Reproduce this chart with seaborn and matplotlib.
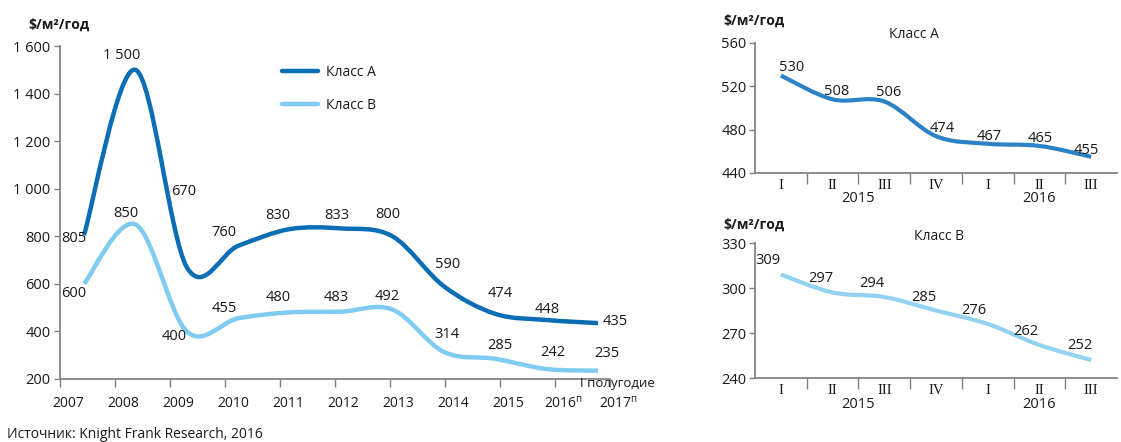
import numpy as np
import matplotlib
matplotlib.use("Agg")
import matplotlib.pyplot as plt
import seaborn as sns
from matplotlib.path import Path
from matplotlib.patches import PathPatch
from matplotlib.lines import Line2D
from matplotlib.ticker import FuncFormatter
from matplotlib.transforms import ScaledTranslation

# ---- data ----
years = ["2007", "2008", "2009", "2010", "2011", "2012", "2013", "2014", "2015",
         "2016$^\\mathregular{п}$", "2017$^\\mathregular{п}$"]
class_a = [805, 1500, 670, 760, 830, 833, 800, 590, 474, 448, 435]
class_b = [600, 850, 400, 455, 480, 483, 492, 314, 285, 242, 235]

quarters = ["I", "II", "III", "IV", "I", "II", "III"]
quarter_years = ["2015", "2016"]
quarter_year_idx = [0, 0, 0, 0, 1, 1, 1]
q_class_a = [530, 508, 506, 474, 467, 465, 455]
q_class_b = [309, 297, 294, 285, 276, 262, 252]

# label offsets in pixels (dx, dy)
off_a = [(-10, -3), (-14, 14), (-3, 76), (-14, 13), (-12, 14), (-4, 13),
         (-5, 22), (4, 22), (5, 20), (1, 11), (17, 2)]
off_b = [(-10, -10), (-10, 11), (-13, -5), (-14, 10), (-11, 15), (-5, 14),
         (-5, 13), (3, 17), (5, 13), (6, 17), (9, 17)]
off_qa = [(11, 8), (4, 8), (4, 9), (6, 8), (1, 7), (1, 7), (-5, 6)]
off_qb = [(-13, 14), (-12, 14), (-12, 14), (-12, 13), (-14, 14), (-14, 14), (-11, 15)]

DARK = "#0b6db4"
LIGHT = "#80cbf2"
Q_DARK = "#2b82c6"
Q_LIGHT = "#93d3f1"
TXT = "#1a1a1a"
SPINE = "#808080"

W, H = 1121, 442

sns.set_theme(style="ticks")
plt.rcParams["font.family"] = ["Open Sans", "DejaVu Sans"]
plt.rcParams["font.size"] = 10
plt.rcParams["text.color"] = TXT
plt.rcParams["axes.edgecolor"] = SPINE
plt.rcParams["xtick.color"] = SPINE
plt.rcParams["ytick.color"] = SPINE
plt.rcParams["xtick.labelcolor"] = TXT
plt.rcParams["ytick.labelcolor"] = TXT


def box(left, top, right, bottom):
    return [left / W, 1 - bottom / H, (right - left) / W, (bottom - top) / H]


def smooth_path(xs, ys):
    pts = np.column_stack([xs, ys]).astype(float)
    n = len(pts)
    verts = [pts[0]]
    codes = [Path.MOVETO]
    for i in range(n - 1):
        p0 = pts[max(i - 1, 0)]
        p1 = pts[i]
        p2 = pts[i + 1]
        p3 = pts[min(i + 2, n - 1)]
        verts += [p1 + (p2 - p0) / 6, p2 - (p3 - p1) / 6, p2]
        codes += [Path.CURVE4] * 3
    return Path(verts, codes)


def draw_line(ax, values, color, lw):
    xs = np.arange(len(values))
    ax.add_patch(PathPatch(smooth_path(xs, values), facecolor="none",
                           edgecolor=color, lw=lw, capstyle="butt", joinstyle="round"))


def label_points(ax, values, offsets, size=10.5):
    for i, (v, (dx, dy)) in enumerate(zip(values, offsets)):
        ax.annotate(f"{v:,}".replace(",", " "), (i, v), xytext=(dx, dy), textcoords="offset pixels",
                    ha="center", va="center", fontsize=size, color=TXT)


fig = plt.figure(figsize=(W / 100, H / 100), dpi=100)

# ---- main chart ----
ax = fig.add_axes(box(60, 46, 610, 379))
draw_line(ax, class_a, DARK, 3.2)
draw_line(ax, class_b, LIGHT, 3.2)
label_points(ax, class_a, off_a)
label_points(ax, class_b, off_b)
x0, x1 = -0.467, 10.233
ax.set_xlim(x0, x1)
ax.set_ylim(200, 1600)
ax.set_yticks(range(200, 1601, 200))
ax.yaxis.set_major_formatter(FuncFormatter(lambda v, p: f"{v:,.0f}".replace(",", " ")))
ax.set_xticks(np.linspace(x0, x1, len(years)))
ax.set_xticklabels(years)
ax.tick_params(axis="x", length=6, width=1, pad=6, labelsize=10)
ax.tick_params(axis="y", length=4, width=1, pad=3, labelsize=10.5)
for lab in ax.get_xticklabels():
    lab.set_transform(lab.get_transform() + ScaledTranslation(6 / 72, 0, fig.dpi_scale_trans))
sns.despine(ax=ax)
ax.annotate("I полугодие", (x1, 0), xycoords=("data", "axes fraction"),
            xytext=(7, -5), textcoords="offset pixels", ha="center", va="center", fontsize=9.5)
handles = [Line2D([], [], color=DARK, lw=3.2), Line2D([], [], color=LIGHT, lw=3.2)]
ax.legend(handles, ["Класс А", "Класс В"], loc="upper left", bbox_to_anchor=(0.38, 0.98),
          frameon=False, labelspacing=1.3, handlelength=2.6, handletextpad=0.6, fontsize=10)
fig.text(28 / W, 1 - 25 / H, "$/м²/год", ha="left", va="center", fontsize=10, fontweight="bold")


# ---- quarterly charts ----
def quarter_chart(rect, values, offsets, color, ylim, step, title, title_xy, unit_y):
    qa = fig.add_axes(box(*rect))
    draw_line(qa, values, color, 3.0)
    label_points(qa, values, offsets)
    qa.set_xlim(-0.5, len(quarters) - 0.5)
    qa.set_ylim(*ylim)
    qa.set_yticks(np.arange(ylim[0], ylim[1] + 1, step))
    qa.set_xticks(range(len(quarters)))
    qa.set_xticklabels(quarters, family=["Liberation Serif"], fontsize=10.5)
    qa.set_xticks(np.arange(0.5, len(quarters) - 0.5), minor=True)
    qa.tick_params(axis="x", which="major", length=0, pad=4)
    qa.tick_params(axis="x", which="minor", length=8, width=1)
    qa.tick_params(axis="y", length=4, width=1, pad=2, labelsize=10.5)
    sns.despine(ax=qa)
    for k, yr in enumerate(quarter_years):
        idx = [i for i, g in enumerate(quarter_year_idx) if g == k]
        qa.annotate(yr, (np.mean(idx), 0), xycoords=("data", "axes fraction"),
                    xytext=(0, -26), textcoords="offset pixels", ha="center", va="center", fontsize=10.5)
    fig.text(title_xy[0] / W, 1 - title_xy[1] / H, title, ha="center", va="center", fontsize=10)
    fig.text(723 / W, 1 - unit_y / H, "$/м²/год", ha="left", va="center", fontsize=10, fontweight="bold")


quarter_chart((755, 43, 1117, 173), q_class_a, off_qa, Q_DARK, (440, 560), 40,
              "Класс А", (914, 35), 21)
quarter_chart((755, 243, 1117, 378), q_class_b, off_qb, Q_LIGHT, (240, 330), 30,
              "Класс В", (939, 237), 225)

fig.text(7 / W, 1 - 435 / H, "Источник: Knight Frank Research, 2016", ha="left", va="center", fontsize=10)

fig.savefig("out.png", dpi=100)
